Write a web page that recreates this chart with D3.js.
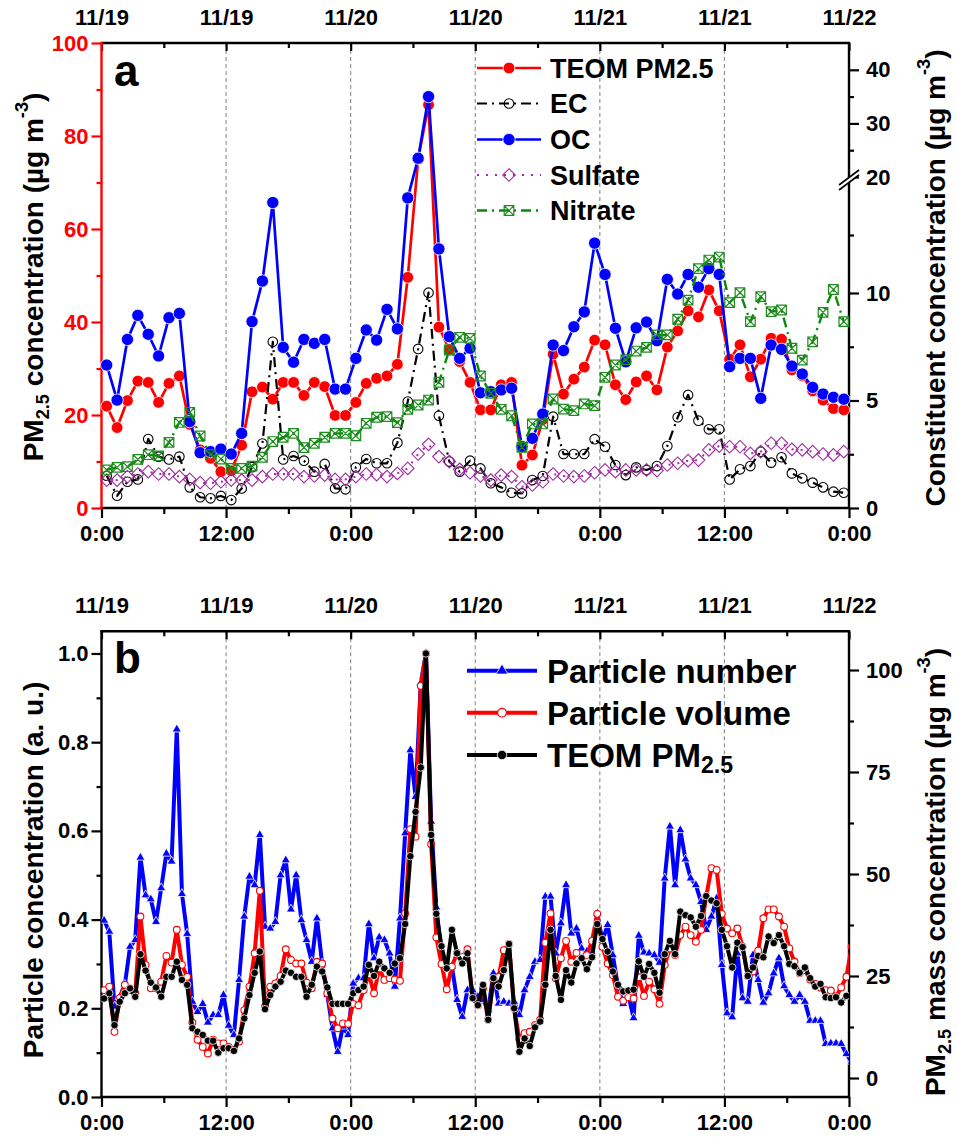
<!DOCTYPE html>
<html>
<head>
<meta charset="utf-8">
<script src="https://cdn.jsdelivr.net/npm/d3@7"></script>
<style>
  body { margin: 0; background: #fff; }
  svg { display: block; }
</style>
</head>
<body>
<svg id="chart" width="957" height="1141"></svg>
<script>
// ---------- Panel a: hourly means (hour 0..71, plotted at the half hour) ----------
const teomHourly = [21.9,17.3,23.1,27.3,27.0,22.7,26.8,28.4,18.0,12.5,10.7,7.8,8.0,13.5,25.0,26.0,23.4,27.0,27.0,24.2,27.0,26.1,19.9,19.9,
  22.7,26.8,27.9,28.4,30.9,49.6,75.0,86.7,38.9,34.1,31.5,27.0,21.1,21.1,26.5,27.0,9.2,11.4,19.0,33.1,24.5,27.7,30.3,36.1,
  35.1,26.5,23.3,27.1,28.4,25.4,34.6,38.1,42.4,41.1,46.9,42.4,32.0,35.1,28.2,32.0,36.5,36.3,29.7,28.4,25.2,23.2,21.4,21.1];
const ecHourly = [1.5,0.57,1.22,1.33,3.21,2.39,2.26,2.39,0.96,0.50,0.45,0.56,0.37,0.91,1.9,3.0,7.73,2.26,2.42,2.2,1.69,2.05,0.91,0.87,
  1.89,2.28,2.08,2.08,3.04,4.95,7.4,10.03,4.29,2.16,1.69,2.2,1.84,1.15,0.96,0.71,0.68,1.30,1.49,4.25,2.51,2.51,2.51,3.2,
  2.85,2.0,1.53,1.89,1.77,1.95,2.88,4.22,5.26,4.06,3.66,3.66,1.33,1.80,1.95,2.62,2.11,2.36,1.61,1.38,1.18,0.96,0.76,0.71];
const ocHourly = [6.65,5.02,7.84,8.96,8.08,7.07,8.85,9.05,4.02,2.57,2.62,2.74,2.51,3.47,8.67,11.03,17.8,7.47,6.78,7.84,7.66,7.84,5.53,5.53,
  6.96,8.28,7.81,9.24,8.33,18.2,23.5,35.0,13.8,7.97,6.96,7.43,5.36,5.41,5.49,5.57,2.85,3.24,4.37,7.58,7.32,8.43,9.12,14.3,
  11.6,8.36,6.8,8.38,8.65,7.78,11.18,9.95,11.6,10.5,12.1,11.6,6.57,6.96,6.96,5.1,7.58,7.38,6.6,6.23,5.61,5.3,5.15,5.06];
const sulfateHourly = [1.30,1.30,1.46,1.58,1.69,1.58,1.58,1.46,1.33,1.18,1.15,1.22,1.30,1.30,1.30,1.46,1.58,1.58,1.58,1.46,1.49,1.53,1.33,1.33,
  1.46,1.58,1.55,1.46,1.61,1.84,2.51,2.96,2.39,2.16,1.80,1.64,1.49,1.30,1.53,1.46,0.99,1.07,1.22,1.58,1.49,1.46,1.49,1.64,
  1.77,1.69,1.77,1.77,1.77,1.74,2.0,2.08,2.2,2.23,2.7,2.88,2.85,2.85,2.54,2.62,3.01,3.01,2.73,2.7,2.62,2.51,2.47,2.62];
const nitrateHourly = [1.77,1.89,1.92,2.26,2.48,2.42,3.05,3.98,4.45,3.35,2.48,2.28,1.84,1.84,1.95,2.36,3.09,3.29,3.47,2.81,3.01,3.29,3.47,3.47,
  3.36,3.94,4.22,4.25,3.97,4.59,4.79,5.02,5.85,7.35,7.94,7.89,6.14,5.33,4.59,4.29,2.82,3.91,3.91,5.07,4.6,4.53,4.84,4.76,
  6.08,6.65,6.9,7.3,7.47,8.05,8.05,8.78,9.67,12.1,12.84,13.1,9.55,10.03,8.67,9.83,9.13,9.21,7.43,6.88,7.73,9.1,10.3,8.67];

// ---------- Panel b: half-hourly normalised concentrations ----------
const particleNumber = [0.398,0.373,0.204,0.226,0.253,0.339,0.354,0.54,0.455,0.446,0.395,0.471,0.549,0.531,0.829,0.458,0.368,0.215,0.192,0.210,0.168,0.185,0.185,0.230,
  0.161,0.140,0.264,0.407,0.497,0.478,0.591,0.384,0.380,0.395,0.50,0.534,0.423,0.50,0.399,0.354,0.305,0.403,0.301,0.230,0.155,0.102,0.159,0.140,
  0.256,0.268,0.268,0.390,0.313,0.360,0.354,0.324,0.249,0.403,0.595,0.782,0.677,0.933,1.0,0.621,0.428,0.324,0.294,0.294,0.219,0.181,0.241,0.241,
  0.226,0.219,0.196,0.279,0.211,0.215,0.211,0.215,0.185,0.241,0.271,0.305,0.309,0.452,0.452,0.324,0.392,0.478,0.369,0.380,0.335,0.328,0.324,0.414,
  0.352,0.388,0.320,0.249,0.21,0.23,0.178,0.364,0.326,0.324,0.320,0.303,0.493,0.610,0.478,0.602,0.536,0.493,0.478,0.440,0.377,0.407,0.448,0.298,
  0.189,0.180,0.324,0.223,0.215,0.320,0.264,0.213,0.234,0.279,0.313,0.250,0.230,0.215,0.230,0.215,0.172,0.172,0.172,0.120,0.121,0.121,0.120,0.097,0.08];
const particleVolume = [0.241,0.249,0.147,0.223,0.253,0.241,0.234,0.407,0.298,0.245,0.245,0.260,0.318,0.303,0.377,0.298,0.271,0.168,0.129,0.113,0.098,0.129,0.121,0.121,
  0.113,0.106,0.125,0.196,0.249,0.324,0.465,0.204,0.249,0.256,0.273,0.333,0.309,0.301,0.301,0.258,0.245,0.305,0.301,0.234,0.177,0.155,0.166,0.165,
  0.210,0.207,0.241,0.277,0.234,0.290,0.264,0.268,0.265,0.262,0.414,0.604,0.587,0.927,1.0,0.570,0.360,0.300,0.243,0.294,0.325,0.316,0.333,0.223,
  0.207,0.245,0.174,0.264,0.271,0.331,0.345,0.200,0.130,0.144,0.147,0.162,0.174,0.348,0.414,0.268,0.313,0.352,0.305,0.325,0.313,0.320,0.352,0.413,
  0.339,0.301,0.275,0.226,0.217,0.225,0.222,0.270,0.228,0.260,0.243,0.210,0.298,0.335,0.320,0.365,0.384,0.365,0.350,0.377,0.453,0.516,0.512,0.413,
  0.380,0.369,0.380,0.339,0.273,0.283,0.330,0.403,0.423,0.423,0.407,0.384,0.335,0.305,0.279,0.286,0.265,0.255,0.247,0.241,0.240,0.226,0.247,0.271,0.339];
const teomHalfHourly = [0.222,0.234,0.162,0.215,0.234,0.245,0.226,0.322,0.285,0.258,0.247,0.226,0.271,0.271,0.305,0.264,0.253,0.155,0.147,0.140,0.127,0.127,0.100,0.110,
  0.110,0.104,0.132,0.177,0.230,0.280,0.328,0.198,0.230,0.249,0.260,0.285,0.280,0.271,0.271,0.226,0.253,0.294,0.283,0.247,0.210,0.210,0.210,0.210,
  0.234,0.241,0.249,0.298,0.273,0.305,0.290,0.280,0.301,0.313,0.390,0.543,0.643,0.743,1.0,0.591,0.413,0.340,0.290,0.377,0.324,0.301,0.324,0.223,
  0.207,0.253,0.174,0.268,0.249,0.286,0.345,0.200,0.102,0.132,0.115,0.157,0.170,0.253,0.377,0.273,0.219,0.286,0.258,0.301,0.313,0.288,0.315,0.390,
  0.356,0.328,0.283,0.253,0.238,0.240,0.242,0.306,0.271,0.300,0.280,0.235,0.322,0.352,0.322,0.418,0.410,0.405,0.384,0.408,0.453,0.443,0.437,0.377,
  0.340,0.292,0.348,0.338,0.273,0.292,0.318,0.315,0.362,0.347,0.365,0.340,0.300,0.295,0.280,0.292,0.268,0.249,0.255,0.225,0.223,0.225,0.213,0.228];

// ---------- Axis labels ----------
const dateLabels = ["11/19","11/19","11/20","11/20","11/21","11/21","11/22"];
const timeLabels = ["0:00","12:00","0:00","12:00","0:00","12:00","0:00"];
const majorHours = [0,12,24,36,48,60,72];
const minorHours = [6,18,30,42,54,66];
const gridHours = [12,24,36,48,60];
const pmTicks = [0,20,40,60,80,100];
const pmMinor = [10,30,50,70,90];
const constTicks = [0,5,10,20,30,40];
const constMinor = [2.5,7.5,15,25,35];
const normTicks = [0,0.2,0.4,0.6,0.8,1.0];
const normMinor = [0.1,0.3,0.5,0.7,0.9];
const massTicks = [0,25,50,75,100];
const massMinor = [12.5,37.5,62.5,87.5];

const FONT = '"Liberation Sans", Arial, Helvetica, sans-serif';
const svg = d3.select("#chart");
svg.append("rect").attr("width", 957).attr("height", 1141).attr("fill", "#fff");

const x = d3.scaleLinear().domain([0, 72]).range([101.5, 849]);
const L = 101.5, R = 849;

function styleAxis(g, color, size) {
  g.select(".domain").remove();
  g.selectAll(".tick line").attr("stroke", color).attr("stroke-width", 2.2);
  g.selectAll(".tick text").attr("fill", color).attr("font-size", size)
    .attr("font-weight", "bold").attr("font-family", FONT);
}

function frameLine(x1, y1, x2, y2, color) {
  svg.append("line").attr("x1", x1).attr("y1", y1).attr("x2", x2).attr("y2", y2)
    .attr("stroke", color).attr("stroke-width", 2.4);
}

function timeAxes(top, bottom) {
  // dashed noon/midnight guides
  svg.append("g").selectAll("line").data(gridHours).join("line")
    .attr("x1", d => x(d)).attr("x2", d => x(d)).attr("y1", top).attr("y2", bottom)
    .attr("stroke", "#8c8c8c").attr("stroke-width", 1.1).attr("stroke-dasharray", "4,3");

  const gb = svg.append("g").attr("transform", `translate(0,${bottom})`)
    .call(d3.axisBottom(x).tickValues(majorHours).tickSize(10).tickPadding(7)
      .tickFormat((d, i) => timeLabels[i]));
  styleAxis(gb, "#000", 22);
  const gbm = svg.append("g").attr("transform", `translate(0,${bottom})`)
    .call(d3.axisBottom(x).tickValues(minorHours).tickSize(6).tickFormat(""));
  styleAxis(gbm, "#000", 0);

  const gt = svg.append("g").attr("transform", `translate(0,${top})`)
    .call(d3.axisTop(x).tickValues(majorHours).tickSize(-8).tickPadding(18)
      .tickFormat((d, i) => dateLabels[i]));
  styleAxis(gt, "#000", 22);
  const gtm = svg.append("g").attr("transform", `translate(0,${top})`)
    .call(d3.axisTop(x).tickValues(minorHours).tickSize(-5).tickFormat(""));
  styleAxis(gtm, "#000", 0);

  frameLine(L - 1, bottom, R + 1, bottom, "#000");
  frameLine(L - 1, top, R + 1, top, "#000");
}

// marker path generators
const sym = (type, area) => d3.symbol().type(type).size(area)();
const crossSquare = s => `M${-s},${-s}H${s}V${s}H${-s}Z M${-s},${-s}L${s},${s} M${s},${-s}L${-s},${s}`;
const diamond = s => `M0,${-s}L${s},0L0,${s}L${-s},0Z`;

function drawSeries(g, times, values, xs, ys, st) {
  const pts = values.map((v, i) => [xs(times[i]), ys(v)]);
  g.append("path").attr("d", d3.line()(pts)).attr("fill", "none")
    .attr("stroke", st.color).attr("stroke-width", st.width)
    .attr("stroke-dasharray", st.dash || null).attr("stroke-linejoin", "round");
  g.append("g").selectAll("path").data(pts).join("path")
    .attr("transform", d => `translate(${d[0]},${d[1]})`)
    .attr("d", st.marker)
    .attr("fill", st.fill).attr("stroke", st.mstroke).attr("stroke-width", st.msw);
}

function legendItem(lx, ly, tx, size, st, label, sub) {
  svg.append("line").attr("x1", lx[0]).attr("x2", lx[2]).attr("y1", ly).attr("y2", ly)
    .attr("stroke", st.color).attr("stroke-width", st.width).attr("stroke-dasharray", st.dash || null);
  svg.append("path").attr("transform", `translate(${lx[1]},${ly})`).attr("d", st.marker)
    .attr("fill", st.fill).attr("stroke", st.mstroke).attr("stroke-width", st.msw);
  const t = svg.append("text").attr("x", tx).attr("y", ly + size * 0.36)
    .attr("font-family", FONT).attr("font-weight", "bold").attr("font-size", size).text(label);
  if (sub) t.append("tspan").attr("font-size", size * 0.7).attr("dy", size * 0.2).text(sub);
}

function axisTitle(cx, cy, rot, size, parts) {
  const t = svg.append("text").attr("transform", `translate(${cx},${cy}) rotate(${rot})`)
    .attr("text-anchor", "middle").attr("font-family", FONT).attr("font-weight", "bold")
    .attr("font-size", size);
  parts.forEach(p => {
    const s = t.append("tspan").text(p[0]);
    if (p[1] === "sub") s.attr("font-size", size * 0.65).attr("dy", size * 0.22);
    if (p[1] === "sup") s.attr("font-size", size * 0.65).attr("dy", -size * 0.55);
    if (p[1] === "back") s.attr("dy", -size * 0.22);
    if (p[1] === "down") s.attr("dy", size * 0.55);
  });
}

// =================== Panel a ===================
const aTop = 43, aBot = 508;
const yPM = d3.scaleLinear().domain([0, 100]).range([aBot, aTop]);
// constituent axis: 0-10 and 10-20 segments, broken above 20
const yCon = d3.scaleLinear().domain([0, 10, 20, 45]).range([aBot, 293, 177, aTop]);
const hoursA = teomHourly.map((v, i) => i + 0.5);

timeAxes(aTop, aBot);

const gl = svg.append("g").attr("transform", `translate(${L},0)`)
  .call(d3.axisLeft(yPM).tickValues(pmTicks).tickSize(10).tickPadding(3));
styleAxis(gl, "#ff0000", 22);
const glm = svg.append("g").attr("transform", `translate(${L},0)`)
  .call(d3.axisLeft(yPM).tickValues(pmMinor).tickSize(5).tickFormat(""));
styleAxis(glm, "#ff0000", 0);
frameLine(L, aTop - 1, L, aBot + 1, "#ff0000");

const gr = svg.append("g").attr("transform", `translate(${R},0)`)
  .call(d3.axisRight(yCon).tickValues(constTicks).tickSize(10).tickPadding(7).tickFormat(d3.format("d")));
styleAxis(gr, "#000", 22);
const grm = svg.append("g").attr("transform", `translate(${R},0)`)
  .call(d3.axisRight(yCon).tickValues(constMinor).tickSize(5).tickFormat(""));
styleAxis(grm, "#000", 0);
frameLine(R, aTop - 1, R, aBot + 1, "#000");
// axis break marks
svg.append("path").attr("d", `M${R - 9},${189} L${R + 9},${175} L${R + 9},${170} L${R - 9},${184} Z`).attr("fill", "#fff");
svg.append("g").selectAll("line").data([0, 5]).join("line")
  .attr("x1", R - 10).attr("x2", R + 10).attr("y1", d => 190 - d).attr("y2", d => 175 - d)
  .attr("stroke", "#000").attr("stroke-width", 1.6);

const stTEOM = { color: "#ff0000", width: 2.7, marker: sym(d3.symbolCircle, 108), fill: "#ff0000", mstroke: "#fff", msw: 0.8 };
const stEC = { color: "#000", width: 2.2, dash: "10,5,2,5", marker: sym(d3.symbolCircle, 72), fill: "none", mstroke: "#000", msw: 1.1 };
const stOC = { color: "#0000ff", width: 2.7, marker: sym(d3.symbolCircle, 118), fill: "#0000ff", mstroke: "#fff", msw: 0.8 };
const stSO4 = { color: "#a02ca0", width: 2, dash: "2,7", marker: diamond(6.3), fill: "none", mstroke: "#a02ca0", msw: 1.1 };
const stNO3 = { color: "#0a8a0a", width: 2.4, dash: "10,5,2,5", marker: crossSquare(4.8), fill: "none", mstroke: "#1e8c1e", msw: 1.2 };

const pa = svg.append("g");
drawSeries(pa, hoursA, teomHourly, x, yPM, stTEOM);
drawSeries(pa, hoursA, ecHourly, x, yCon, stEC);
drawSeries(pa, hoursA, ocHourly, x, yCon, stOC);
drawSeries(pa, hoursA, sulfateHourly, x, yCon, stSO4);
drawSeries(pa, hoursA, nitrateHourly, x, yCon, stNO3);

const lxA = [477, 509, 541];
legendItem(lxA, 68, 550, 27, stTEOM, "TEOM PM2.5");
legendItem(lxA, 103.5, 550, 27, stEC, "EC");
legendItem(lxA, 139.5, 550, 27, stOC, "OC");
legendItem(lxA, 175, 550, 27, stSO4, "Sulfate");
legendItem(lxA, 210.5, 550, 27, stNO3, "Nitrate");

svg.append("text").attr("x", 114).attr("y", 86).attr("font-family", FONT).attr("font-weight", "bold")
  .attr("font-size", 44).text("a");

axisTitle(43, 277, -90, 28, [["PM"], ["2.5", "sub"], [" concentration (µg m", "back"], ["-3", "sup"], [")", "down"]]);
axisTitle(945, 278, -90, 28, [["Constituent concentration (µg m"], ["-3", "sup"], [")", "down"]]);

// =================== Panel b ===================
const bTop = 631.3, bBot = 1097;
const yNorm = d3.scaleLinear().domain([0, 1.05]).range([bBot, bTop]);
const yMass = d3.scaleLinear().domain([0, 100]).range([1078, 670]);
const halfHours = particleNumber.map((v, j) => 0.25 + 0.5 * j);

timeAxes(bTop, bBot);

const gl2 = svg.append("g").attr("transform", `translate(${L},0)`)
  .call(d3.axisLeft(yNorm).tickValues(normTicks).tickSize(10).tickPadding(3).tickFormat(d3.format(".1f")));
styleAxis(gl2, "#000", 22);
const gl2m = svg.append("g").attr("transform", `translate(${L},0)`)
  .call(d3.axisLeft(yNorm).tickValues(normMinor).tickSize(5).tickFormat(""));
styleAxis(gl2m, "#000", 0);
frameLine(L, bTop - 1, L, bBot + 1, "#000");

const gr2 = svg.append("g").attr("transform", `translate(${R},0)`)
  .call(d3.axisRight(yMass).tickValues(massTicks).tickSize(10).tickPadding(7));
styleAxis(gr2, "#000", 22);
const gr2m = svg.append("g").attr("transform", `translate(${R},0)`)
  .call(d3.axisRight(yMass).tickValues(massMinor).tickSize(5).tickFormat(""));
styleAxis(gr2m, "#000", 0);
frameLine(R, bTop - 1, R, bBot + 1, "#000");

svg.append("clipPath").attr("id", "clipB").append("rect")
  .attr("x", L).attr("y", bTop).attr("width", R - L).attr("height", bBot - bTop);
const pb = svg.append("g").attr("clip-path", "url(#clipB)");

const stNum = { color: "#0000ff", width: 4, marker: sym(d3.symbolTriangle, 36), fill: "#0000ff", mstroke: "#fff", msw: 0.8 };
const stVol = { color: "#ff0000", width: 4, marker: sym(d3.symbolCircle, 36), fill: "#fff", mstroke: "#ff0000", msw: 1.1 };
const stTEOMb = { color: "#000", width: 4, marker: sym(d3.symbolCircle, 44), fill: "#000", mstroke: "#fff", msw: 0.8 };

drawSeries(pb, halfHours, particleNumber, x, yNorm, stNum);
drawSeries(pb, halfHours, particleVolume, x, yNorm, stVol);
drawSeries(pb, halfHours, teomHalfHourly, x, yNorm, stTEOMb);

const lxB = [467, 502, 537];
legendItem(lxB, 670.7, 547, 33, Object.assign({}, stNum, { marker: sym(d3.symbolTriangle, 60) }), "Particle number");
legendItem(lxB, 712.7, 547, 33, Object.assign({}, stVol, { marker: sym(d3.symbolCircle, 60) }), "Particle volume");
legendItem(lxB, 755, 547, 33, Object.assign({}, stTEOMb, { marker: sym(d3.symbolCircle, 70) }), "TEOM PM", "2.5");

svg.append("text").attr("x", 114).attr("y", 673).attr("font-family", FONT).attr("font-weight", "bold")
  .attr("font-size", 44).text("b");

axisTitle(43, 870, -90, 28, [["Particle concentration (a. u.)"]]);
axisTitle(945, 872, -90, 28, [["PM"], ["2.5", "sub"], [" mass concentration (µg m", "back"], ["-3", "sup"], [")", "down"]]);
</script>
</body>
</html>
